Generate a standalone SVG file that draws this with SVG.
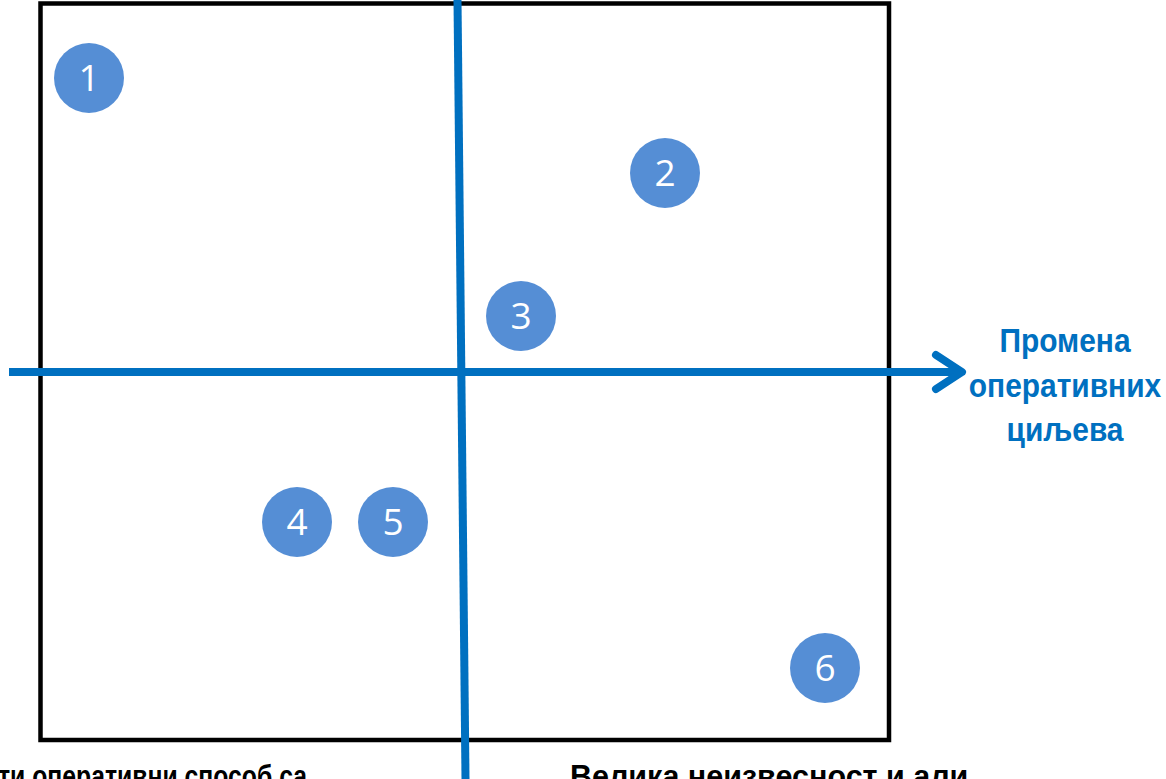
<svg xmlns="http://www.w3.org/2000/svg" width="1166" height="779" viewBox="0 0 1166 779">
<defs>
<style>
.node circle{fill:#558ED5}
.node text{fill:#fff;font-family:"Open Sans","Liberation Sans",sans-serif;font-size:37px;text-anchor:middle}
.lbl{font-family:"Liberation Sans Narrow","Liberation Sans",Arial,sans-serif;font-weight:bold;fill:#0070C0;font-size:34px;text-anchor:middle}
.bot{font-family:"Liberation Sans",Arial,sans-serif;font-weight:bold;fill:#000;font-size:30.5px}
</style>
</defs>
<rect id="frame" x="40.5" y="3.5" width="848.5" height="736.5" fill="none" stroke="#000" stroke-width="4.5"/>
<g id="connectors" stroke="#0070C0" stroke-width="8" fill="none">
<line x1="457.5" y1="0" x2="465.5" y2="779"/>
<line x1="9" y1="372" x2="960" y2="372"/>
<polyline points="936,355 962,372 936,389" stroke-linecap="round" stroke-linejoin="round"/>
</g>
<g id="n1" class="node"><circle cx="89" cy="78" r="35"/><text x="89" y="91">1</text></g>
<g id="n2" class="node"><circle cx="665" cy="173" r="35"/><text x="665" y="186">2</text></g>
<g id="n3" class="node"><circle cx="521" cy="316" r="35"/><text x="521" y="329">3</text></g>
<g id="n4" class="node"><circle cx="297" cy="522" r="35"/><text x="297" y="535">4</text></g>
<g id="n5" class="node"><circle cx="393" cy="522" r="35"/><text x="393" y="535">5</text></g>
<g id="n6" class="node"><circle cx="825" cy="668" r="35"/><text x="825" y="681">6</text></g>
<g id="axis-label">
<text class="lbl" transform="translate(1065,352) scale(0.88,1)">Промена</text>
<text class="lbl" transform="translate(1065,397) scale(0.88,1)">оперативних</text>
<text class="lbl" transform="translate(1065,441) scale(0.88,1)">циљева</text>
</g>
<text class="bot" x="-2" y="787" textLength="309" lengthAdjust="spacingAndGlyphs">ти оперативни способ са</text>
<text class="bot" x="570" y="787">Велика неизвесност и али</text>
</svg>
